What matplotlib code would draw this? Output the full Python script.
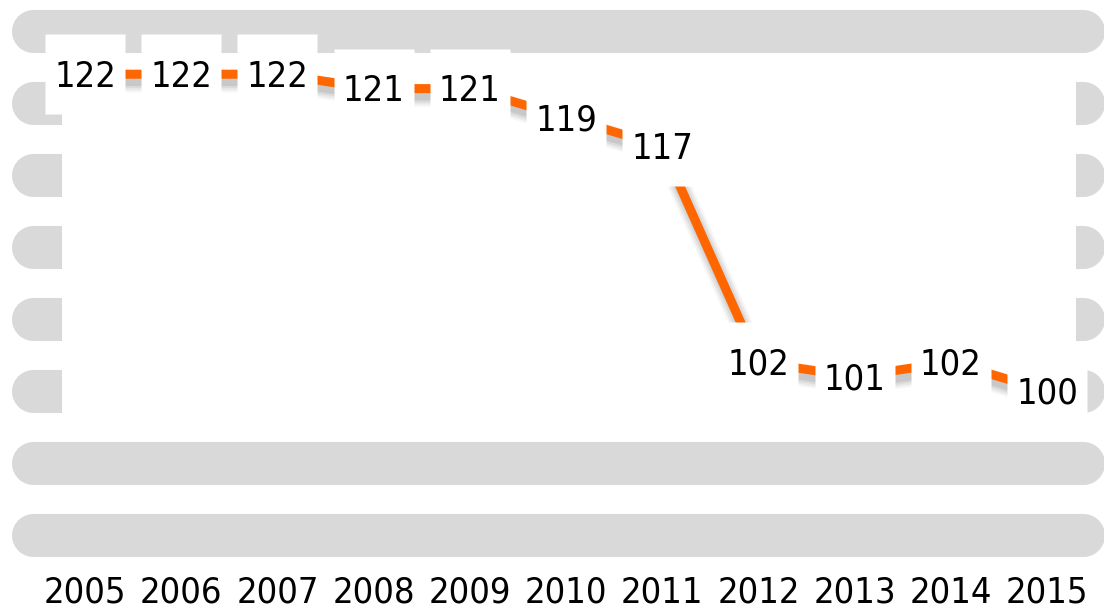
import matplotlib
matplotlib.use("Agg")
import matplotlib.pyplot as plt
import matplotlib.transforms as mtransforms
from matplotlib.patches import Rectangle

# data
years = [2005, 2006, 2007, 2008, 2009, 2010, 2011, 2012, 2013, 2014, 2015]
values = [122, 122, 122, 121, 121, 119, 117, 102, 101, 102, 100]
grid_levels = [125, 120, 115, 110, 105, 100, 95, 90]

plt.rcParams['font.family'] = ['DejaVu Sans']
plt.rcParams['font.stretch'] = 'condensed'

fig = plt.figure(figsize=(11.04, 6.10), dpi=100)
ax = fig.add_axes([0, 50 / 610, 1, 560 / 610])
ax.set_xlim(2004.116, 2015.593)
ax.set_ylim(88.264, 127.153)

# rounded gray bands used as gridlines
for lvl in grid_levels:
    ax.plot([2004.46, 2015.37], [lvl, lvl], color='#d9d9d9', lw=31,
            solid_capstyle='round', zorder=0)

# white plot area covering the inner bands
ax.add_patch(Rectangle((0.056, 0.241), 0.919, 0.652, transform=ax.transAxes,
                       facecolor='white', edgecolor='none', zorder=1))

# soft shadow under the line
for lw, a in [(16, 0.04), (13, 0.05), (10, 0.06), (7, 0.08)]:
    tr = mtransforms.offset_copy(ax.transData, fig=fig, x=2, y=-5, units='points')
    ax.plot(years, values, color='black', lw=lw, alpha=a, transform=tr,
            solid_capstyle='butt', zorder=2)

ax.plot(years, values, color='#ff6600', lw=6.5, solid_capstyle='butt', zorder=3)

# white label boxes
ax.plot(years, values, 's', ms=57, mfc='white', mec='none', zorder=4)

for x, v in zip(years, values):
    ax.annotate(str(v), (x, v), xytext=(0, -2), textcoords='offset points',
                ha='center', va='center', fontsize=26, color='black', zorder=5)

ax.set_xticks(years)
ax.set_xticklabels([str(y) for y in years], fontsize=26)
ax.tick_params(axis='x', length=0, pad=11)
ax.set_yticks([])
for s in ax.spines.values():
    s.set_visible(False)

fig.savefig("out.png", dpi=100)
